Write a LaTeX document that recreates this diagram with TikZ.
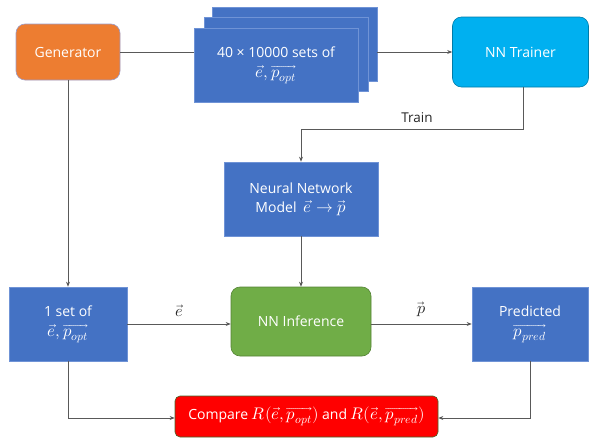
\documentclass[tikz,border=0pt]{standalone}
\usepackage{fontspec}
\usepackage{unicode-math}
\setmainfont{Open Sans}
\setmathfont{Latin Modern Math}[Scale=1.2]
\usetikzlibrary{arrows.meta}
\definecolor{cblue}{HTML}{4472C4}
\definecolor{cblueb}{HTML}{6F93D6}
\definecolor{corange}{HTML}{ED7D31}
\definecolor{ccyan}{HTML}{00B0F0}
\definecolor{cgreen}{HTML}{70AD47}
\definecolor{cred}{HTML}{FF0000}
\definecolor{cline}{HTML}{595959}
\tikzset{
  box/.style={rectangle, draw=cblueb, line width=0.6pt, fill=cblue, text=white, align=center, font=\fontsize{14}{19}\selectfont, inner sep=0pt},
  rbox/.style={box, rounded corners=9pt},
  conn/.style={draw=cline, line width=0.7pt},
  arr/.style={conn, -{Stealth[length=5pt,width=4pt]}},
  lbl/.style={font=\fontsize{13.5}{16}\selectfont, text=black!85}
}
\begin{document}
\begin{tikzpicture}[x=1pt,y=-1pt]
\useasboundingbox (0,0) rectangle (590,439);
% top row
\node[rbox, fill=corange, draw=gray!70!blue!60, minimum width=104pt, minimum height=56pt] (gen) at (68,52) {Generator};
\node[box, minimum width=165pt, minimum height=74pt] (back) at (294.5,44) {};
\node[box, minimum width=164pt, minimum height=74pt] (mid) at (286,54) {};
\node[box, minimum width=164pt, minimum height=74pt] (front) at (276,65) {40 × 10000 sets of\\[1pt] $\vec{e},\overrightarrow{p_{opt}}$};
\node[rbox, fill=ccyan, draw=ccyan!70!black, minimum width=136pt, minimum height=70pt] (trainer) at (520.5,52) {NN Trainer};
% middle
\node[box, minimum width=154pt, minimum height=74pt] (model) at (301,199) {Neural Network\\ Model\ \ $\vec{e}\rightarrow\vec{p}$};
% bottom row
\node[box, minimum width=118pt, minimum height=74pt] (one) at (68,324) {1 set of\\[1pt] $\vec{e},\overrightarrow{p_{opt}}$};
\node[rbox, fill=cgreen, draw=cgreen!75!black, minimum width=140pt, minimum height=69pt] (inf) at (301,321.5) {NN Inference};
\node[box, minimum width=116pt, minimum height=74pt] (pred) at (530,324) {Predicted\\[1pt] $\overrightarrow{p_{pred}}$};
\node[box, rounded corners=5pt, fill=cred, draw=cgreen!60!black, minimum width=263pt, minimum height=41pt] (cmp) at (306.5,416.5) {Compare $R(\vec{e},\overrightarrow{p_{opt}})$ and $R(\vec{e},\overrightarrow{p_{pred}})$};
% connectors
\coordinate (j1) at (523,129);
\coordinate (j2) at (301,129);
\coordinate (bl) at (68,418);
\coordinate (br) at (530,418);
\draw[conn] (gen.east) -- (gen.east -| front.west);
\draw[arr] (gen.east -| back.east) -- (trainer.west);
\draw[arr] (trainer.south -| j1) -- (j1) -- (j2) -- (model.north);
\node[lbl] (train) at (417,118) {Train};
\draw[arr] (gen.south) -- (one.north);
\draw[arr] (model.south) -- (inf.north);
\draw[arr] (one.east) -- (one.east -| inf.west) node[lbl, pos=0.5, above=4pt] (le) {$\vec{e}$};
\draw[arr] (inf.east |- pred.west) -- (pred.west) node[lbl, pos=0.5, above=4pt] (lp) {$\vec{p}$};
\draw[arr] (one.south) -- (bl) -- (bl -| cmp.west);
\draw[arr] (pred.south) -- (br) -- (br -| cmp.east);
\end{tikzpicture}
\end{document}
